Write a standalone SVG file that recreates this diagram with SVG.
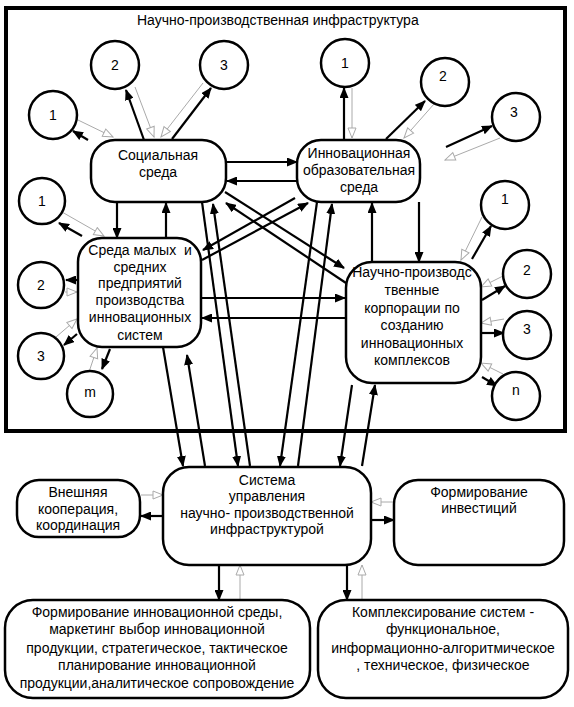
<svg xmlns="http://www.w3.org/2000/svg" width="574" height="707" viewBox="0 0 574 707">
<defs>
<marker id="ab" markerUnits="userSpaceOnUse" markerWidth="11" markerHeight="9" refX="10" refY="4.5" orient="auto"><path d="M0,0 L11,4.5 L0,9 z" fill="#000"/></marker>
<marker id="ag" markerUnits="userSpaceOnUse" markerWidth="12" markerHeight="11" refX="11" refY="5" orient="auto"><path d="M1,1 L11,5 L1,9 z" fill="#fff" stroke="#aaa" stroke-width="1"/></marker>
</defs>
<style>
text{font-family:"Liberation Sans",Arial,sans-serif;font-size:14px;fill:#000;text-anchor:middle}
.t{text-anchor:start;font-size:14px}
.box{fill:#fff;stroke:#000;stroke-width:2.5}
.c{fill:#fff;stroke:#000;stroke-width:2.5}
.b{stroke:#000;stroke-width:2.2;fill:none;marker-end:url(#ab)}
.g{stroke:#aaa;stroke-width:1;fill:none;marker-end:url(#ag)}
</style>
<rect x="6" y="8" width="559" height="423" fill="#fff" stroke="#000" stroke-width="4"/>
<text class="t" x="137" y="25">Научно-производственная инфраструктура</text>

<g id="connectors">
<path class="b" d="M88,140 L73,131"/>
<path class="g" d="M78,120 L113,137"/>
<path class="b" d="M144,140 L126,90"/>
<path class="g" d="M135,87 L154,137"/>
<path class="b" d="M172,139 L211,88"/>
<path class="g" d="M203,83 L161,137"/>
<path class="b" d="M82,236 L59,223"/>
<path class="g" d="M62,212 L104,236"/>
<path class="b" d="M78,280 L66,280"/>
<path class="g" d="M65,292 L77,292"/>
<path class="b" d="M77,334 L64,345"/>
<path class="g" d="M56,337 L77,319"/>
<path class="b" d="M110,349 L102,369"/>
<path class="g" d="M89,372 L97,348"/>
<path class="b" d="M344,140 L344,88"/>
<path class="g" d="M352,88 L352,138"/>
<path class="b" d="M386,139 L425,101"/>
<path class="g" d="M434,104 L404,138"/>
<path class="b" d="M446,147 L492,126"/>
<path class="g" d="M500,138 L445,160"/>
<path class="b" d="M472,259 L491,226"/>
<path class="g" d="M482,217 L461,260"/>
<path class="b" d="M482,300 L505,286"/>
<path class="g" d="M503,276 L481,287"/>
<path class="b" d="M482,333 L504,333"/>
<path class="g" d="M504,319 L481,323"/>
<path class="b" d="M482,377 L497,386"/>
<path class="g" d="M503,374 L481,363"/>
<path class="b" d="M226,162 L297,162"/>
<path class="b" d="M297,181 L227,181"/>
<path class="b" d="M117,202 L117,238"/>
<path class="b" d="M166,238 L166,203"/>
<path class="b" d="M225,192 L344,268"/>
<path class="b" d="M346,283 L226,203"/>
<path class="b" d="M295,198 L203,250"/>
<path class="b" d="M202,260 L308,203"/>
<path class="b" d="M419,202 L419,262"/>
<path class="b" d="M372,262 L372,203"/>
<path class="b" d="M201,298 L345,298"/>
<path class="b" d="M346,318 L202,318"/>
<path class="b" d="M163,347 L183,466"/>
<path class="b" d="M205,466 L187,355"/>
<path class="b" d="M202,202 L238,466"/>
<path class="b" d="M250,466 L213,204"/>
<path class="b" d="M317,202 L280,466"/>
<path class="b" d="M298,466 L332,204"/>
<path class="b" d="M352,385 L340,466"/>
<path class="b" d="M362,466 L375,385"/>
<path class="b" d="M163,516 L141,516"/>
<path class="g" d="M141,495 L163,495"/>
<path class="g" d="M394,502 L371,502"/>
<path class="b" d="M371,520 L394,520"/>
<path class="b" d="M219,566 L219,600"/>
<path class="g" d="M240,600 L240,565"/>
<path class="b" d="M347,566 L347,600"/>
<path class="g" d="M362,600 L362,565"/>
</g>

<g id="social"><rect class="box" x="91" y="140" width="135" height="62" rx="24"/><text x="158" y="160">Социальная</text><text x="158" y="177">среда</text></g>
<g id="innov"><rect class="box" x="297" y="140" width="123" height="62" rx="24"/><text x="359" y="158">Инновационная</text><text x="359" y="175">образовательная</text><text x="359" y="192">среда</text></g>
<g id="sme"><rect class="box" x="78" y="238" width="123" height="109" rx="24"/><text x="140" y="255" xml:space="preserve">Среда малых  и</text><text x="140" y="272">средних</text><text x="140" y="288">предприятий</text><text x="140" y="305">производства</text><text x="140" y="322">инновационных</text><text x="140" y="340">систем</text></g>
<g id="corp"><rect class="box" x="346" y="262" width="135" height="121" rx="26"/><text x="412" y="277">Научно-производс</text><text x="412" y="295">твенные</text><text x="412" y="313">корпорации по</text><text x="412" y="330">созданию</text><text x="412" y="348">инновационных</text><text x="412" y="365">комплексов</text></g>

<g id="s1"><circle class="c" cx="53" cy="115" r="24"/><text x="53" y="120">1</text></g>
<g id="s2"><circle class="c" cx="115" cy="65" r="24"/><text x="115" y="70">2</text></g>
<g id="s3"><circle class="c" cx="224" cy="65" r="24"/><text x="224" y="70">3</text></g>
<g id="m1"><circle class="c" cx="42" cy="201" r="23"/><text x="42" y="206">1</text></g>
<g id="m2"><circle class="c" cx="41" cy="285" r="23"/><text x="41" y="290">2</text></g>
<g id="m3"><circle class="c" cx="41" cy="356" r="23"/><text x="41" y="361">3</text></g>
<g id="mm"><circle class="c" cx="90" cy="394" r="23"/><text x="90" y="397">m</text></g>
<g id="i1"><circle class="c" cx="345" cy="63" r="24"/><text x="345" y="68">1</text></g>
<g id="i2"><circle class="c" cx="445" cy="82" r="24"/><text x="443" y="81">2</text></g>
<g id="i3"><circle class="c" cx="516" cy="117" r="24"/><text x="514" y="117">3</text></g>
<g id="k1"><circle class="c" cx="505" cy="205" r="24"/><text x="505" y="204">1</text></g>
<g id="k2"><circle class="c" cx="527" cy="274" r="24"/><text x="527" y="275">2</text></g>
<g id="k3"><circle class="c" cx="527" cy="335" r="24"/><text x="527" y="334">3</text></g>
<g id="kn"><circle class="c" cx="516" cy="396" r="24"/><text x="516" y="395">n</text></g>

<g id="system"><rect class="box" x="163" y="467" width="208" height="98" rx="26"/><text x="267" y="485">Система</text><text x="267" y="501">управления</text><text x="267" y="518">научно- производственной</text><text x="267" y="534">инфраструктурой</text></g>
<g id="external"><rect class="box" x="17" y="480" width="123" height="57" rx="22"/><text x="78" y="497">Внешняя</text><text x="78" y="514">кооперация,</text><text x="78" y="530">координация</text></g>
<g id="invest"><rect class="box" x="394" y="480" width="170" height="85" rx="24"/><text x="479" y="497">Формирование</text><text x="479" y="513">инвестиций</text></g>
<g id="formation"><rect class="box" x="5" y="600" width="305" height="98" rx="28"/><text x="157" y="617">Формирование инновационной среды,</text><text x="157" y="634">маркетинг выбор инновационной</text><text x="157" y="653">продукции, стратегическое, тактическое</text><text x="157" y="670">планирование инновационной</text><text x="157" y="688">продукции,аналитическое сопровождение</text></g>
<g id="complex"><rect class="box" x="318" y="600" width="250" height="98" rx="28"/><text x="443" y="617">Комплексирование систем -</text><text x="443" y="634">функциональное,</text><text x="443" y="653">информационно-алгоритмическое</text><text x="443" y="670">, техническое, физическое</text></g>
</svg>
